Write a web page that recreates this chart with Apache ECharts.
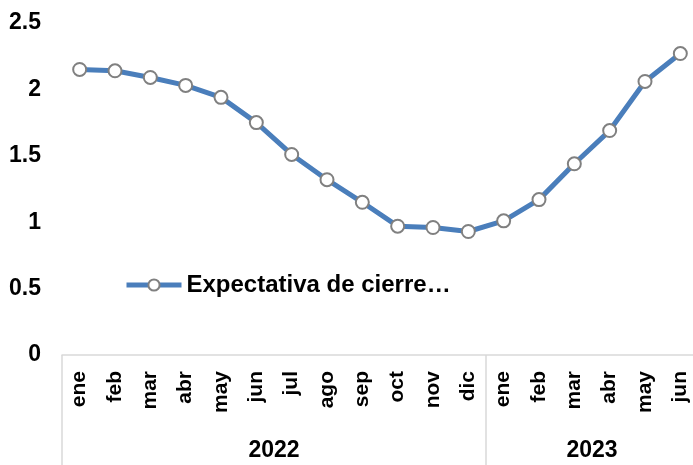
<!DOCTYPE html>
<html lang="es">
<head>
    <meta charset="UTF-8">
    <title>Expectativa de cierre</title>
    <style>
        html, body { margin: 0; padding: 0; background: #ffffff; }
        #chart-box { width: 693px; height: 465px; }
    </style>
</head>
<body>
<div id="chart-box"></div>
<script src="https://cdn.jsdelivr.net/npm/echarts@6/dist/echarts.min.js"></script>
<script>
    // datos
    var meses = ['ene','feb','mar','abr','may','jun','jul','ago','sep','oct','nov','dic',
                 'ene','feb','mar','abr','may','jun'];
    var anios = ['2022', '2023'];
    var mesesPorAnio = [12, 6];
    var expectativa = [2.15, 2.14, 2.09, 2.03, 1.94, 1.75, 1.51, 1.32, 1.15, 0.97, 0.96, 0.93,
                       1.01, 1.17, 1.44, 1.69, 2.06, 2.27];
    var nombreSerie = 'Expectativa de cierre…';

    // posiciones de los separadores y de las etiquetas de año
    var cortes = [0];
    var centros = [];
    mesesPorAnio.forEach(function (n) {
        var ini = cortes[cortes.length - 1];
        centros.push(ini + n / 2);
        cortes.push(ini + n);
    });

    var fuente = 'Liberation Sans, Arial, sans-serif';
    var myChart = echarts.init(document.getElementById('chart-box'));

    var option = {
        animation: false,
        grid: {
            left: 62,
            top: 23,
            width: 636,
            height: 332,
            outerBoundsMode: 'none'
        },
        legend: {
            left: 119,
            top: 268,
            itemWidth: 55,
            itemHeight: 14,
            itemGap: 5,
            lineStyle: { width: 5 },
            textStyle: {
                fontFamily: fuente,
                fontWeight: 'bold',
                fontSize: 24,
                color: '#000'
            },
            data: [nombreSerie]
        },
        xAxis: [{
            type: 'category',
            data: meses,
            boundaryGap: true,
            axisLine: { lineStyle: { color: '#d9d9d9', width: 1.5 } },
            axisTick: { show: false },
            axisLabel: {
                rotate: 90,
                margin: 16,
                interval: 0,
                fontFamily: fuente,
                fontWeight: 'bold',
                fontSize: 21,
                color: '#000'
            }
        }, {
            type: 'value',
            position: 'bottom',
            min: 0,
            max: meses.length,
            axisLine: { show: false },
            splitLine: { show: false },
            axisTick: {
                show: true,
                customValues: cortes,
                length: 115,
                lineStyle: { color: '#d9d9d9', width: 1.5 }
            },
            axisLabel: {
                customValues: centros,
                margin: 84,
                fontFamily: fuente,
                fontWeight: 'bold',
                fontSize: 23,
                color: '#000',
                formatter: function (v) {
                    var i = centros.indexOf(v);
                    return i >= 0 ? anios[i] : '';
                }
            }
        }],
        yAxis: {
            type: 'value',
            min: 0,
            max: 2.5,
            interval: 0.5,
            axisLine: { show: false },
            axisTick: { show: false },
            splitLine: { show: false },
            axisLabel: {
                margin: 21,
                fontFamily: fuente,
                fontWeight: 'bold',
                fontSize: 23,
                color: '#000'
            }
        },
        series: [{
            name: nombreSerie,
            type: 'line',
            xAxisIndex: 0,
            data: expectativa,
            symbol: 'circle',
            symbolSize: 13,
            lineStyle: { color: '#4a7ebb', width: 5 },
            itemStyle: { color: '#ffffff', borderColor: '#808080', borderWidth: 2 }
        }]
    };
    myChart.setOption(option);
</script>
</body>
</html>
